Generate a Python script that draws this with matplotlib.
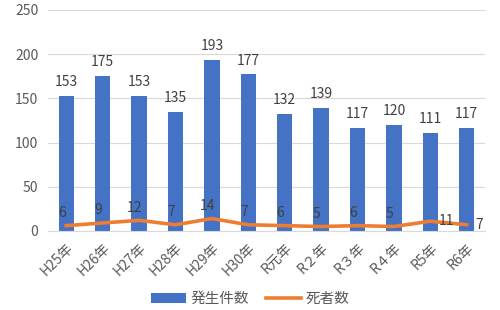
import matplotlib.pyplot as plt
import numpy as np

plt.rcParams['font.family'] = ['Noto Sans CJK JP', 'DejaVu Sans']

nendo = ["H25年", "H26年", "H27年", "H28年", "H29年", "H30年",
         "R元年", "R２年", "R３年", "R４年", "R5年", "R6年"]
hassei = [153, 175, 153, 135, 193, 177, 132, 139, 117, 120, 111, 117]
shisha = [6, 9, 12, 7, 14, 7, 6, 5, 6, 5, 11, 7]

gray = "#595959"
fig = plt.figure(figsize=(5, 3.1), dpi=100)
ax = fig.add_axes([0.096, 0.255, 0.874, 0.713])

x = np.arange(len(nendo))
bars = ax.bar(x, hassei, width=0.42, color="#4472C4", label="発生件数", zorder=2)
line, = ax.plot(x, shisha, color="#ED7D31", lw=2.6, label="死者数", zorder=3)

for i, v in enumerate(hassei):
    ax.annotate(str(v), (i, v), xytext=(0, 5), textcoords="offset points",
                ha="center", va="bottom", fontsize=10, color="#404040")
for i, v in enumerate(shisha):
    if i >= 10:
        ax.annotate(str(v), (i, v), xytext=(6, 0), textcoords="offset points",
                    ha="left", va="center", fontsize=10, color="#404040")
    else:
        ax.annotate(str(v), (i, v), xytext=(-3, 4), textcoords="offset points",
                    ha="center", va="bottom", fontsize=10, color="#404040")

ax.set_xlim(-0.5, len(nendo) - 0.5)
ax.set_ylim(0, 250)
ax.set_yticks(range(0, 251, 50))
ax.set_xticks(x)
ax.set_xticklabels(nendo, rotation=45, ha="right", rotation_mode="anchor")
ax.tick_params(axis="both", length=0, labelsize=10, colors=gray, pad=7)
ax.grid(axis="y", color="#d9d9d9", lw=0.8, zorder=0)
for s in ["top", "right", "left"]:
    ax.spines[s].set_visible(False)
ax.spines["bottom"].set_color("#d9d9d9")

fig.legend([bars, line], ["発生件数", "死者数"], loc="lower center", ncol=2,
           frameon=False, fontsize=10.5, bbox_to_anchor=(0.5, -0.03),
           labelcolor=gray, handlelength=2.4, handletextpad=0.3, columnspacing=1.2)

plt.savefig("out.png")
